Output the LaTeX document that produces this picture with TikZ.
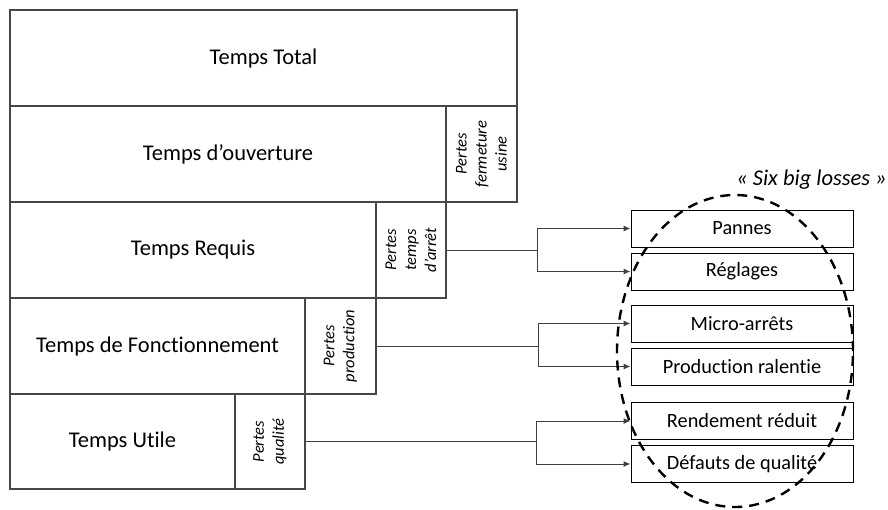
\documentclass[tikz,border=0pt]{standalone}
\usepackage{fontspec}
\setmainfont{Carlito}[Ligatures=NoCommon]
\usetikzlibrary{arrows.meta}
\tikzset{
  mainbox/.style={draw=black!72, line width=1.1pt, rectangle, inner sep=0pt, align=center,
    font=\fontsize{22.5}{27}\selectfont, text=black},
  lossbox/.style={draw=black!72, line width=1.1pt, rectangle, inner sep=0pt, align=center,
    minimum height=96pt},
  losstext/.style={rotate=90, align=center, font=\itshape\fontsize{16.5}{20}\selectfont, text=black, inner sep=0pt},
  lossbig/.style={draw=black, line width=1pt, rectangle, inner sep=0pt, minimum width=222pt, minimum height=37pt,
    font=\fontsize{20.3}{24}\selectfont, text=black},
  conn/.style={draw=black!75, line width=1pt},
  arr/.style={conn, -{Latex[length=7pt,width=6pt]}},
  bigloss/.style={draw=black, line width=2.4pt, dash pattern=on 10pt off 7pt}
}
\begin{document}
\begin{tikzpicture}[x=1pt,y=-1pt]
\useasboundingbox (0,0) rectangle (888,509);
% left stacked boxes
\node[mainbox, minimum width=507pt, minimum height=96pt] (tt) at (263.5,58) {Temps Total};
\node[mainbox, minimum width=436pt, minimum height=96pt] (to) at (228,154) {Temps d’ouverture};
\node[lossbox, minimum width=71pt] (pf) at (481.5,154) {};
\node[losstext] at (pf.center) {Pertes\\fermeture\\usine};
\node[mainbox, minimum width=366pt, minimum height=96pt] (tr) at (193,250) {Temps Requis};
\node[lossbox, minimum width=70pt] (pta) at (411,250) {};
\node[losstext] at (pta.center) {Pertes\\temps\\d’arrêt};
\node[mainbox, minimum width=295pt, minimum height=96pt] (tf) at (157.5,346) {Temps de Fonctionnement};
\node[lossbox, minimum width=71pt] (pp) at (340.5,346) {};
\node[losstext] at (pp.center) {Pertes\\production};
\node[mainbox, minimum width=225pt, minimum height=95pt] (tu) at (122.5,441.5) {Temps Utile};
\node[lossbox, minimum width=70pt, minimum height=95pt] (pq) at (270,441.5) {};
\node[losstext] at (pq.center) {Pertes\\qualité};
% right boxes
\node[lossbig] (pan) at (742,228.5) {Pannes};
\node[lossbig] (reg) at (742,271.5) {Réglages};
\node[lossbig] (mic) at (742,323.5) {Micro-arrêts};
\node[lossbig] (pro) at (742,366.5) {Production ralentie};
\node[lossbig] (ren) at (742,421) {Rendement réduit};
\node[lossbig] (def) at (742,464) {Défauts de qualité};
% connectors
\draw[conn] (pta.east) -- (537,250) coordinate (b1);
\draw[arr] (b1) |- (pan.west);
\draw[arr] (b1) |- (reg.west);
\draw[conn] (pp.east) -- (538,346) coordinate (b2);
\draw[arr] (b2) |- (mic.west);
\draw[arr] (b2) |- (pro.west);
\draw[conn] (pq.east) -- (536,441.5) coordinate (b3);
\draw[arr] (b3) |- (ren.west);
\draw[arr] (b3) |- (def.west);
% six big losses
\draw[bigloss] (735,351) ellipse [x radius=118pt, y radius=156pt];
\node[anchor=base east, inner sep=0pt, font=\itshape\fontsize{22.5}{27}\selectfont, text=black] (lbl) at (887,185) {« Six big losses »};
\end{tikzpicture}
\end{document}
